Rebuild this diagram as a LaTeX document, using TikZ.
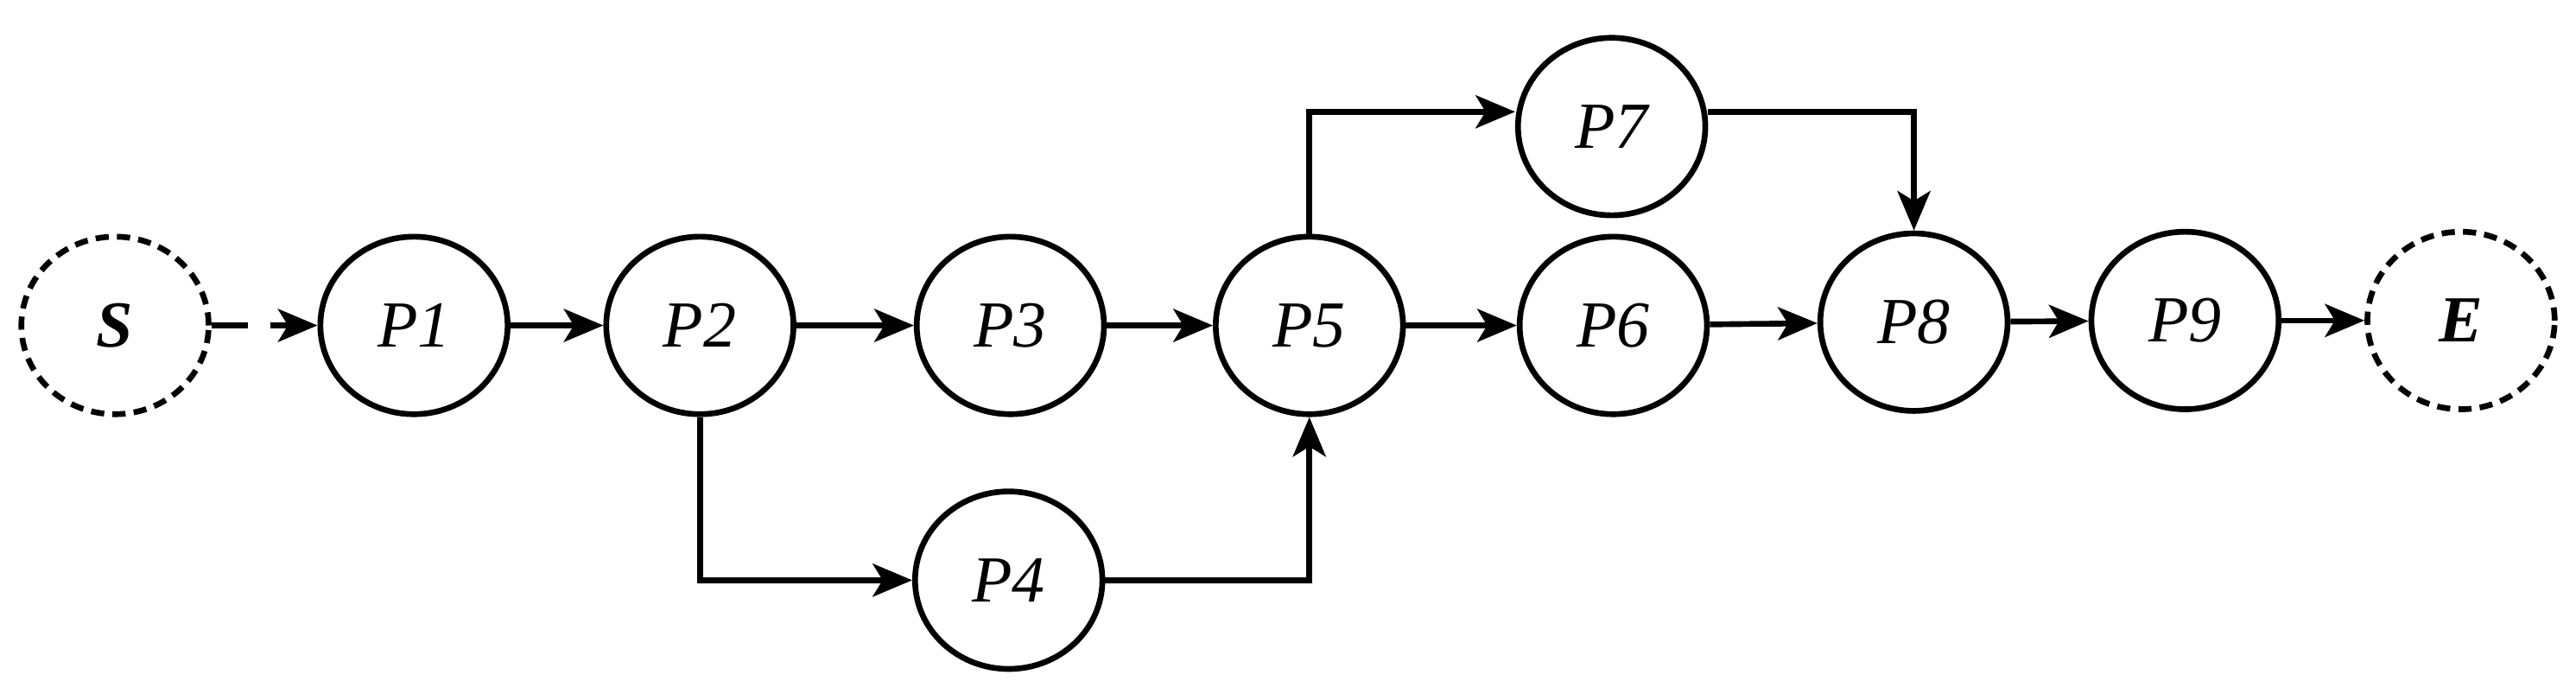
\documentclass[tikz,border=0pt]{standalone}
\usepackage{fontspec}
\setmainfont{Liberation Serif}
\usetikzlibrary{shapes.geometric,arrows.meta}
\begin{document}
\begin{tikzpicture}[x=1pt,y=-1pt,
  st/.style={ellipse,draw,line width=3.5pt,inner sep=0pt,minimum width=114pt,minimum height=108pt,font=\fontsize{40}{48}\selectfont\itshape},
  dsh/.style={st,dash pattern=on 8pt off 5pt,font=\fontsize{40}{48}\selectfont\bfseries\itshape},
  ar/.style={line width=3.5pt,-{Stealth[length=24pt,width=20pt,inset=6pt]}}]
\useasboundingbox (0,0) rectangle (1568,422);
\node[dsh] (S) at (70,198) {S};
\node[st] (P1) at (252,198) {P1};
\node[st] (P2) at (426,198) {P2};
\node[st] (P3) at (615,198) {P3};
\node[st] (P4) at (614,353) {P4};
\node[st] (P5) at (797,198) {P5};
\node[st] (P6) at (982,198) {P6};
\node[st] (P7) at (981,77) {P7};
\node[st] (P8) at (1165,196) {P8};
\node[st] (P9) at (1330,195) {P9};
\node[dsh] (E) at (1498,195) {E};
\coordinate (a) at (797,68);
\coordinate (b) at (1165,68);
\draw[ar,dash pattern=on 22pt off 14pt] (S) -- (P1);
\draw[ar] (P1) -- (P2);
\draw[ar] (P2) -- (P3);
\draw[ar] (P3) -- (P5);
\draw[ar] (P5) -- (P6);
\draw[ar] (P6) -- (P8);
\draw[ar] (P8) -- (P9);
\draw[ar] (P9) -- (E);
\draw[ar] (P2.south) |- (P4.west);
\draw[ar] (P4.east) -| (P5.south);
\draw[ar] (P5.north) -- (a) -- (a -| P7.west);
\draw[ar] (b -| P7.east) -- (b) -- (P8.north);
\end{tikzpicture}
\end{document}
